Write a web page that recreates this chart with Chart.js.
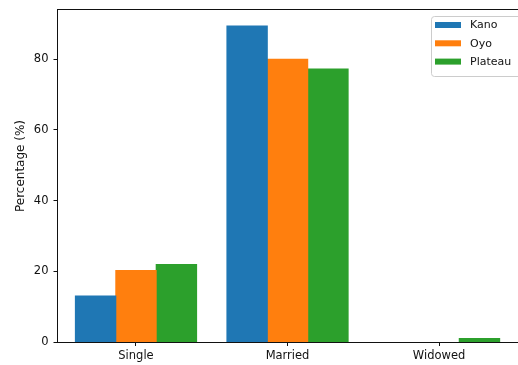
<!DOCTYPE html>
<html>
<head>
<meta charset="utf-8">
<script src="https://cdn.jsdelivr.net/npm/chart.js@4/dist/chart.umd.min.js"></script>
<style>
  html, body { margin: 0; padding: 0; background: #fff; overflow: hidden; }
  canvas { display: block; }
</style>
</head>
<body>
<canvas id="c" width="518" height="365"></canvas>
<script>
// Marital status by state, percentage of respondents
const categories = ['Single', 'Married', 'Widowed'];
const kano = [13.0, 89.4, 0];
const oyo = [20.2, 80.0, 0];
const plateau = [21.9, 77.2, 1.0];
const yTicks = [0, 20, 40, 60, 80];
const seriesNames = ['Kano', 'Oyo', 'Plateau'];
const seriesColors = ['#1f77b4', '#ff7f0e', '#2ca02c'];

const FONT = "'DejaVu Sans', 'Liberation Sans', sans-serif";
const toPoints = vals => vals.map((v, i) => ({ x: i, y: v }));

// top spine, rotated y title and boxed legend
const decorations = {
  id: 'decorations',
  afterDraw(chart) {
    const ctx = chart.ctx;
    const a = chart.chartArea;
    ctx.save();
    ctx.strokeStyle = '#111';
    ctx.lineWidth = 1;
    ctx.beginPath();
    ctx.moveTo(a.left, Math.round(a.top) + 0.5);
    ctx.lineTo(a.right + 2, Math.round(a.top) + 0.5);
    ctx.stroke();

    ctx.fillStyle = '#111';
    ctx.font = '12px ' + FONT;
    ctx.textAlign = 'center';
    ctx.textBaseline = 'middle';
    ctx.translate(21, 166);
    ctx.rotate(-Math.PI / 2);
    ctx.fillText('Percentage (%)', 0, 0);
    ctx.restore();

    // legend
    ctx.save();
    const bx = 431.5, by = 16.5, bw = 92, bh = 60, r = 3;
    ctx.fillStyle = 'rgba(255,255,255,0.8)';
    ctx.strokeStyle = '#cccccc';
    ctx.lineWidth = 1;
    ctx.beginPath();
    ctx.moveTo(bx + r, by);
    ctx.lineTo(bx + bw - r, by);
    ctx.arcTo(bx + bw, by, bx + bw, by + r, r);
    ctx.lineTo(bx + bw, by + bh - r);
    ctx.arcTo(bx + bw, by + bh, bx + bw - r, by + bh, r);
    ctx.lineTo(bx + r, by + bh);
    ctx.arcTo(bx, by + bh, bx, by + bh - r, r);
    ctx.lineTo(bx, by + r);
    ctx.arcTo(bx, by, bx + r, by, r);
    ctx.closePath();
    ctx.fill();
    ctx.stroke();
    ctx.font = '11px ' + FONT;
    ctx.textAlign = 'left';
    ctx.textBaseline = 'middle';
    chart.data.datasets.forEach((ds, i) => {
      const cy = 25 + i * 18.3;
      ctx.fillStyle = ds.backgroundColor;
      ctx.fillRect(435, cy - 3, 26, 6);
      ctx.fillStyle = '#111';
      ctx.fillText(ds.label, 470, cy + 0.5);
    });
    ctx.restore();
  }
};

new Chart(document.getElementById('c'), {
  type: 'bar',
  data: {
    datasets: [
      { label: seriesNames[0], data: toPoints(kano), backgroundColor: seriesColors[0] },
      { label: seriesNames[1], data: toPoints(oyo), backgroundColor: seriesColors[1] },
      { label: seriesNames[2], data: toPoints(plateau), backgroundColor: seriesColors[2] }
    ]
  },
  options: {
    responsive: false,
    animation: false,
    devicePixelRatio: 1,
    layout: { padding: { top: 9, right: 0, bottom: 0, left: 0 } },
    datasets: {
      bar: {
        categoryPercentage: 0.8,
        barPercentage: 1.0,
        borderWidth: 0,
        // close hairline gaps between adjacent bars, but leave zero bars invisible
        inflateAmount: c => (c.raw && c.raw.y === 0 ? 0 : 0.5)
      }
    },
    plugins: { legend: { display: false }, tooltip: { enabled: false } },
    scales: {
      x: {
        type: 'linear',
        min: -0.518,
        max: 2.521,
        offset: false,
        afterFit(scale) {
          scale.height = 23;
          scale.paddingLeft = 0;
          scale.paddingRight = 0;
        },
        afterBuildTicks(scale) { scale.ticks = categories.map((_, i) => ({ value: i })); },
        grid: { offset: false, drawOnChartArea: false, drawTicks: true, tickLength: 4, tickColor: '#111' },
        border: { display: true, color: '#111', width: 1 },
        ticks: {
          color: '#111',
          font: { family: FONT, size: 11.5 },
          padding: 3,
          maxRotation: 0,
          callback: v => categories[v] ?? ''
        }
      },
      y: {
        min: 0,
        max: 94.2,
        afterFit(scale) {
          scale.width = 57.5;
          scale.paddingTop = 0;
          scale.paddingBottom = 0;
        },
        afterBuildTicks(scale) { scale.ticks = yTicks.map(v => ({ value: v })); },
        grid: { drawOnChartArea: false, drawTicks: true, tickLength: 4, tickColor: '#111' },
        border: { display: true, color: '#111', width: 1 },
        ticks: {
          color: '#111',
          font: { family: FONT, size: 11.5 },
          padding: 5
        }
      }
    }
  },
  plugins: [decorations]
});
</script>
</body>
</html>
